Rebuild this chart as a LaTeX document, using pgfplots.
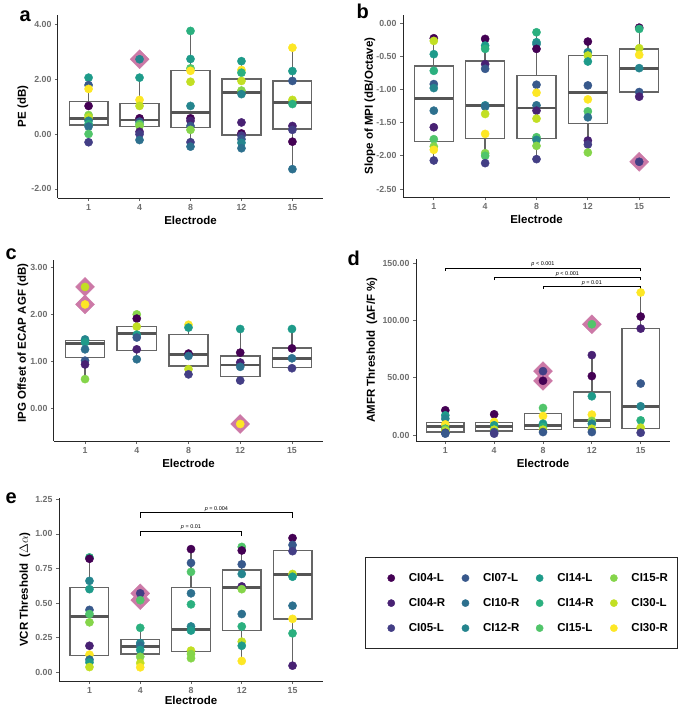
\documentclass[border=0pt]{standalone}
\usepackage{fontspec}
\setmainfont{Liberation Sans}
\usepackage{pgfplots}
\usepackage{pgfplotstable}
\pgfplotsset{compat=1.18}
\usepgfplotslibrary{statistics}

\definecolor{v1}{HTML}{440154}
\definecolor{v2}{HTML}{482173}
\definecolor{v3}{HTML}{433E85}
\definecolor{v4}{HTML}{38598C}
\definecolor{v5}{HTML}{2D708E}
\definecolor{v6}{HTML}{25858E}
\definecolor{v7}{HTML}{1E9B8A}
\definecolor{v8}{HTML}{2BB07F}
\definecolor{v9}{HTML}{51C56A}
\definecolor{v10}{HTML}{85D54A}
\definecolor{v11}{HTML}{C2DF23}
\definecolor{v12}{HTML}{FDE725}
\definecolor{dia}{HTML}{CC79A7}
\definecolor{boxc}{HTML}{656565}
\definecolor{medc}{HTML}{555555}
\definecolor{tickc}{HTML}{6E6E6E}

\pgfplotstableread{
x y c
0 2.05 G
0 1.78 D
0 1.64 L
0 1.02 A
0 0.69 J
0 0.60 K
0 0.48 F
0 0.36 H
0 0.27 E
0 0.00 I
0 -0.30 C
1 2.72 F
1 2.05 G
1 1.24 L
1 1.02 K
1 0.57 A
1 0.45 D
1 0.36 I
1 0.29 J
1 0.08 B
1 -0.01 C
1 -0.22 E
2 3.75 H
2 2.73 G
2 2.39 I
2 2.30 L
2 1.90 K
2 1.02 F
2 0.57 A
2 0.48 B
2 0.29 D
2 0.15 J
2 -0.30 C
2 -0.46 E
3 2.65 G
3 2.33 L
3 2.23 H
3 1.93 K
3 1.58 J
3 1.45 F
3 0.42 B
3 0.02 A
3 -0.06 C
3 -0.19 D
3 -0.32 F
3 -0.52 E
4 3.14 L
4 2.29 G
4 1.93 D
4 1.24 K
4 1.09 H
4 0.29 B
4 0.15 C
4 -0.28 A
4 -1.28 E
}\tA

\pgfplotstableread{
x y c
0 -0.23 A
0 -0.27 K
0 -0.47 G
0 -0.72 H
0 -0.92 D
0 -0.98 F
0 -1.32 E
0 -1.57 B
0 -1.75 I
0 -1.86 J
0 -1.91 L
0 -2.07 C
1 -0.24 A
1 -0.34 G
1 -0.39 H
1 -0.62 B
1 -0.69 D
1 -1.24 F
1 -1.26 E
1 -1.37 K
1 -1.67 L
1 -1.96 J
1 -2.00 I
1 -2.11 C
2 -0.14 H
2 -0.29 G
2 -0.32 F
2 -0.39 A
2 -0.93 D
2 -1.05 L
2 -1.24 E
2 -1.32 B
2 -1.44 K
2 -1.72 I
2 -1.76 F
2 -1.85 J
2 -2.05 C
3 -0.28 A
3 -0.44 F
3 -0.49 K
3 -0.58 G
3 -0.94 D
3 -1.15 L
3 -1.33 I
3 -1.42 E
3 -1.77 B
3 -1.83 C
3 -1.95 J
4 -0.07 A
4 -0.09 H
4 -0.38 K
4 -0.48 L
4 -0.68 F
4 -1.04 D
4 -1.11 B
4 -2.09 C
}\tB

\pgfplotstableread{
x y c
0 2.58 K
0 2.21 L
0 1.47 F
0 1.41 G
0 1.26 E
0 1.02 D
0 0.94 B
0 0.63 J
1 2.00 J
1 1.91 A
1 1.74 K
1 1.57 G
1 1.51 D
1 1.26 B
1 1.05 E
2 1.78 L
2 1.72 G
2 1.17 A
2 1.12 E
2 0.84 K
2 0.73 C
3 1.69 G
3 1.19 A
3 0.98 B
3 0.89 E
3 0.60 C
3 -0.32 L
4 1.69 G
4 1.28 A
4 1.07 E
4 0.86 C
}\tC

\pgfplotstableread{
x y c
0 21.6 A
0 17.2 G
0 14.3 F
0 9.3 L
0 5.5 H
0 4.7 J
0 3.5 K
0 2.0 C
0 1.2 D
1 18.1 A
1 11.4 L
1 8.5 G
1 4.7 K
1 2.6 D
1 1.2 C
2 55.7 C
2 47.3 A
2 23.6 I
2 16.6 L
2 9.9 G
2 7.0 H
2 4.7 K
2 2.6 D
3 96.6 I
3 69.7 B
3 51.4 A
3 33.8 G
3 17.8 L
3 12.3 J
3 9.9 F
3 5.5 K
3 2.6 D
4 124.3 L
4 103.3 A
4 92.8 B
4 44.9 D
4 25.1 F
4 12.8 H
4 6.4 K
4 2.0 C
}\tD

\pgfplotstableread{
x y c
0 0.83 H
0 0.82 A
0 0.66 F
0 0.60 G
0 0.45 D
0 0.42 I
0 0.36 J
0 0.19 B
0 0.126 L
0 0.09 E
0 0.07 G
0 0.036 K
1 0.57 C
1 0.52 I
1 0.32 H
1 0.21 F
1 0.19 E
1 0.16 G
1 0.11 J
1 0.065 K
1 0.034 L
2 0.89 A
2 0.79 D
2 0.725 I
2 0.57 E
2 0.49 H
2 0.33 F
2 0.30 G
2 0.155 K
2 0.13 J
2 0.10 J
3 0.906 I
3 0.88 A
3 0.78 D
3 0.71 F
3 0.62 B
3 0.60 J
3 0.42 E
3 0.33 H
3 0.22 K
3 0.19 G
3 0.08 L
4 0.97 A
4 0.92 D
4 0.875 C
4 0.71 K
4 0.69 G
4 0.48 E
4 0.385 L
4 0.28 H
4 0.046 B
}\tE

\pgfplotsset{
  panel/.style={
    scale only axis, clip=false,
    axis lines=left,
    axis line style={-, line width=1pt, draw=black!85},
    xmin=-0.6, xmax=4.6,
    xtick={0,1,2,3,4}, xticklabels={1,4,8,12,15},
    tick align=outside, major tick length=3pt,
    tick style={draw=black!60, line width=0.8pt},
    tick label style={font=\fontsize{8.8}{10}\selectfont\bfseries, text=tickc},
    xlabel={Electrode},
    label style={font=\fontsize{11.5}{13}\selectfont\bfseries, text=black},
    xlabel style={at={(axis description cs:0.5,0)}, anchor=center, yshift=-22pt},
    anchor=south west,
  },
  pts/.style={scatter, only marks, scatter src=explicit symbolic, mark=*, mark size=4.1pt,
    scatter/classes={A={v1},B={v2},C={v3},D={v4},E={v5},F={v6},G={v7},H={v8},I={v9},J={v10},K={v11},L={v12}}},
  out/.style={only marks, mark=square*, mark size=6.7pt, mark options={rotate=45, draw=dia, fill=dia}},
  brk/.style={black, line width=0.8pt, no marks},
  lgi/.style={only marks, mark=*, mark size=3.6pt, #1},
}
\newcommand{\bx}[6]{\addplot[draw=boxc, line width=1.35pt, fill=white, solid,
  boxplot/draw direction=y,
  boxplot/every median/.style={draw=medc, line width=2.8pt},
  boxplot prepared={draw position=#1, lower whisker=#2, lower quartile=#3, median=#4,
  upper quartile=#5, upper whisker=#6, box extend=0.76, whisker extend=0}] coordinates {};}
\newcommand{\plab}[3]{\node[anchor=base west, font=\fontsize{20}{22}\selectfont\bfseries] at (#1pt,-#2pt) {#3};}
\newcommand{\lt}[1]{\makebox[51pt][l]{#1}}

\begin{document}
\begin{tikzpicture}
\useasboundingbox (0,0) rectangle (678pt,-707pt);
% ---------------- a
\begin{axis}[panel, at={(58pt,-198pt)}, width=265pt, height=183pt,
  ymin=-2.33, ymax=4.33, ytick={-2,0,2,4}, yticklabels={-2.00,0.00,2.00,4.00},
  ylabel={PE (dB)}, ylabel style={at={([xshift=-35pt]axis description cs:0,0.5)}, anchor=center}]
\bx{0}{-0.30}{0.33}{0.55}{1.18}{2.05}
\bx{1}{-0.22}{0.27}{0.51}{1.12}{2.05}
\bx{2}{-0.46}{0.23}{0.78}{2.30}{3.75}
\bx{3}{-0.52}{-0.04}{1.52}{2.00}{2.65}
\bx{4}{-1.28}{0.18}{1.15}{1.93}{3.14}
\addplot[out] coordinates {(1,2.72)};
\addplot[pts] table[x=x,y=y,meta=c] {\tA};
\end{axis}
% ---------------- b
\begin{axis}[panel, at={(403pt,-197pt)}, width=267pt, height=182pt,
  ymin=-2.62, ymax=0.12, ytick={-2.5,-2,-1.5,-1,-0.5,0}, yticklabels={-2.50,-2.00,-1.50,-1.00,-0.50,0.00},
  ylabel={Slope of MPI (dB/Octave)}, ylabel style={at={([xshift=-33pt]axis description cs:0,0.5)}, anchor=center}]
\bx{0}{-2.07}{-1.78}{-1.14}{-0.65}{-0.23}
\bx{1}{-2.11}{-1.74}{-1.245}{-0.57}{-0.24}
\bx{2}{-2.05}{-1.74}{-1.28}{-0.79}{-0.14}
\bx{3}{-1.95}{-1.51}{-1.05}{-0.49}{-0.28}
\bx{4}{-1.11}{-1.04}{-0.68}{-0.39}{-0.07}
\addplot[out] coordinates {(4,-2.09)};
\addplot[pts] table[x=x,y=y,meta=c] {\tB};
\end{axis}
% ---------------- c
\begin{axis}[panel, at={(54pt,-441pt)}, width=269pt, height=181pt,
  ymin=-0.68, ymax=3.15, ytick={0,1,2,3}, yticklabels={0.00,1.00,2.00,3.00},
  ylabel={IPG Offset of ECAP AGF (dB)}, ylabel style={at={([xshift=-31pt]axis description cs:0,0.54)}, anchor=center}]
\bx{0}{0.63}{1.09}{1.38}{1.44}{1.47}
\bx{1}{1.05}{1.24}{1.60}{1.74}{2.00}
\bx{2}{0.73}{0.91}{1.15}{1.57}{1.78}
\bx{3}{0.60}{0.68}{0.93}{1.12}{1.69}
\bx{4}{0.86}{0.87}{1.07}{1.29}{1.69}
\addplot[out] coordinates {(0,2.58) (0,2.21) (3,-0.32)};
\addplot[pts] table[x=x,y=y,meta=c] {\tC};
\end{axis}
% ---------------- d
\begin{axis}[panel, at={(416pt,-441pt)}, width=254pt, height=182pt,
  ymin=-5.2, ymax=153.5, ytick={0,50,100,150}, yticklabels={0.00,50.00,100.00,150.00},
  ylabel={AMFR Threshold\ \ (ΔF/F \%)}, ylabel style={at={([xshift=-44pt]axis description cs:0,0.5)}, anchor=center}]
\bx{0}{1.2}{2.6}{7.6}{10.8}{21.6}
\bx{1}{1.2}{3.5}{7.6}{10.8}{18.1}
\bx{2}{2.6}{5.0}{8.5}{18.7}{23.6}
\bx{3}{2.6}{6.4}{12.8}{37.6}{69.7}
\bx{4}{2.0}{5.5}{25.1}{93.1}{124.3}
\addplot[out] coordinates {(2,55.7) (2,47.3) (3,96.6)};
\addplot[pts] table[x=x,y=y,meta=c] {\tD};
\addplot[brk] coordinates {(0,143.3) (0,145.6) (4,145.6) (4,143.3)};
\addplot[brk] coordinates {(1,135.1) (1,137.4) (4,137.4) (4,135.1)};
\addplot[brk] coordinates {(2,127.3) (2,129.6) (4,129.6) (4,127.3)};
\node[anchor=south, font=\fontsize{5.5}{6}\selectfont, inner sep=1pt] at (axis cs:2,145.6) {\textit{p} < 0.001};
\node[anchor=south, font=\fontsize{5.5}{6}\selectfont, inner sep=1pt] at (axis cs:2.5,137.4) {\textit{p} < 0.001};
\node[anchor=south, font=\fontsize{5.5}{6}\selectfont, inner sep=1pt] at (axis cs:3,129.6) {\textit{p} = 0.01};
\end{axis}
% ---------------- e
\begin{axis}[panel, at={(59pt,-681pt)}, width=264pt, height=183pt,
  ymin=-0.065, ymax=1.26, ytick={0,0.25,0.5,0.75,1,1.25}, yticklabels={0.00,0.25,0.50,0.75,1.00,1.25},
  xlabel style={yshift=2.5pt},
  ylabel={VCR Threshold\ \ ($\Delta\alpha$)}, ylabel style={at={([xshift=-34pt]axis description cs:0,0.5)}, anchor=center}]
\bx{0}{0.036}{0.12}{0.40}{0.614}{0.83}
\bx{1}{0.034}{0.13}{0.186}{0.235}{0.32}
\bx{2}{0.10}{0.15}{0.31}{0.61}{0.89}
\bx{3}{0.08}{0.30}{0.61}{0.74}{0.906}
\bx{4}{0.046}{0.385}{0.706}{0.88}{0.97}
\addplot[out] coordinates {(1,0.57) (1,0.52)};
\addplot[pts] table[x=x,y=y,meta=c] {\tE};
\addplot[brk] coordinates {(1,1.118) (1,1.153) (4,1.153) (4,1.118)};
\addplot[brk] coordinates {(1,0.985) (1,1.02) (3,1.02) (3,0.985)};
\node[anchor=south, font=\fontsize{5.5}{6}\selectfont, inner sep=1pt] at (axis cs:2.5,1.153) {\textit{p} = 0.004};
\node[anchor=south, font=\fontsize{5.5}{6}\selectfont, inner sep=1pt] at (axis cs:2,1.02) {\textit{p} = 0.01};
\end{axis}
% ---------------- legend
\draw[black!85, line width=0.9pt] (365pt,-557pt) rectangle (677pt,-648pt);
\begin{axis}[hide axis, scale only axis, width=312pt, height=91pt, at={(365pt,-648pt)}, anchor=south west,
  xmin=0, xmax=1, ymin=0, ymax=1,
  legend columns=4, legend cell align=left,
  legend style={at={(0.072,0.845)}, anchor=north west, draw=none, inner sep=0pt,
    font=\fontsize{11.5}{13}\selectfont\bfseries, row sep=11.5pt,
    /tikz/every odd column/.append style={column sep=12pt}}]
\addlegendimage{lgi=v1}\addlegendentry{\lt{CI04-L}}
\addlegendimage{lgi=v4}\addlegendentry{\lt{CI07-L}}
\addlegendimage{lgi=v7}\addlegendentry{\lt{CI14-L}}
\addlegendimage{lgi=v10}\addlegendentry{CI15-R}
\addlegendimage{lgi=v2}\addlegendentry{\lt{CI04-R}}
\addlegendimage{lgi=v5}\addlegendentry{\lt{CI10-R}}
\addlegendimage{lgi=v8}\addlegendentry{\lt{CI14-R}}
\addlegendimage{lgi=v11}\addlegendentry{CI30-L}
\addlegendimage{lgi=v3}\addlegendentry{\lt{CI05-L}}
\addlegendimage{lgi=v6}\addlegendentry{\lt{CI12-R}}
\addlegendimage{lgi=v9}\addlegendentry{\lt{CI15-L}}
\addlegendimage{lgi=v12}\addlegendentry{CI30-R}
\end{axis}
\plab{16}{21}{a}
\plab{353}{18}{b}
\plab{2}{259}{c}
\plab{344}{265}{d}
\plab{2}{503}{e}
\end{tikzpicture}
\end{document}
